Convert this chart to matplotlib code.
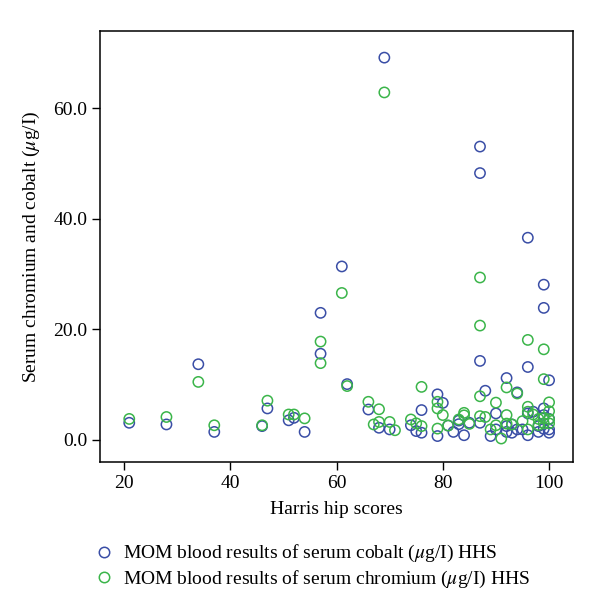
import matplotlib
matplotlib.use("Agg")
import matplotlib.pyplot as plt
from matplotlib.lines import Line2D

# Harris hip score vs serum cobalt (ug/l)
cobalt_hhs = [21, 28, 34, 37, 46, 47, 51, 52, 54, 57, 57, 61, 62, 66, 68, 70, 69,
              74, 75, 76, 76, 79, 79, 80, 81, 82, 83, 83, 84, 85, 87, 87, 87, 87,
              88, 89, 90, 90, 92, 92, 92, 93, 93, 94, 94, 95, 96, 96, 96, 96, 97,
              98, 98, 99, 99, 99, 99, 99, 100, 100, 100, 100]
cobalt = [3.1, 2.8, 13.7, 1.45, 2.5, 5.7, 3.55, 4.0, 1.45, 23.0, 15.6, 31.4, 10.1,
          5.5, 2.2, 1.9, 69.2, 2.65, 1.6, 5.4, 1.3, 8.25, 0.7, 6.7, 2.6, 1.45, 2.85,
          3.5, 0.85, 3.1, 53.1, 48.3, 14.3, 3.1, 8.9, 0.7, 4.8, 1.9, 11.2, 1.45, 2.5,
          1.3, 2.8, 8.6, 1.9, 1.9, 36.6, 13.2, 4.8, 0.85, 5.1, 1.45, 2.5, 28.1, 23.9,
          5.7, 4.5, 2.0, 10.8, 1.9, 1.3, 3.8]

# Harris hip score vs serum chromium (ug/l)
chromium_hhs = [21, 28, 34, 37, 46, 47, 51, 52, 54, 57, 57, 61, 62, 66, 67, 68, 68,
                69, 70, 71, 74, 75, 76, 76, 79, 79, 79, 80, 81, 83, 84, 84, 85, 87,
                87, 87, 87, 88, 89, 90, 90, 91, 92, 92, 92, 93, 94, 95, 96, 96, 96,
                96, 97, 98, 98, 99, 99, 99, 99, 100, 100, 100, 100]
chromium = [3.8, 4.15, 10.5, 2.65, 2.65, 7.1, 4.6, 4.6, 3.9, 17.8, 13.9, 26.6, 9.75,
            6.9, 2.8, 3.25, 5.55, 62.9, 3.25, 1.75, 3.7, 3.0, 9.6, 2.5, 6.9, 5.7,
            2.05, 4.5, 2.6, 3.7, 4.9, 4.45, 2.9, 29.4, 20.7, 7.9, 4.3, 4.15, 1.9,
            6.75, 2.65, 0.25, 9.5, 4.5, 2.95, 2.8, 8.4, 3.4, 18.1, 6.0, 5.1, 1.9, 4.6,
            3.8, 2.7, 16.4, 11.0, 4.0, 3.0, 6.8, 5.2, 3.75, 3.0]

x_ticks = [20, 40, 60, 80, 100]
y_ticks = [0, 20, 40, 60]
y_tick_labels = ["0.0", "20.0", "40.0", "60.0"]

blue = "#3a4ea6"
green = "#3bb54a"
serif = ["Liberation Serif", "DejaVu Serif"]

plt.rcParams["font.family"] = serif
plt.rcParams["mathtext.fontset"] = "stix"

fig = plt.figure(figsize=(6, 6.1), dpi=100)
ax = fig.add_axes([0.1667, 0.2426, 0.7883, 0.7064])

ax.scatter(cobalt_hhs, cobalt, s=55, facecolors="none", edgecolors=blue, linewidths=1.1)
ax.scatter(chromium_hhs, chromium, s=55, facecolors="none", edgecolors=green, linewidths=1.1)

ax.set_xlim(15.5, 104.5)
ax.set_ylim(-4, 74)
ax.set_xticks(x_ticks)
ax.set_yticks(y_ticks)
ax.set_yticklabels(y_tick_labels)
ax.tick_params(direction="out", length=6, width=1, labelsize=14, pad=3)
for sp in ax.spines.values():
    sp.set_linewidth(1.1)

ax.set_xlabel("Harris hip scores", fontsize=14, labelpad=7)
ax.set_ylabel(r"Serum chromium and cobalt ($\mu$g/I)", fontsize=14, labelpad=8)

handles = [
    Line2D([], [], linestyle="none", marker="o", markersize=7.5, markerfacecolor="none",
           markeredgecolor=blue, markeredgewidth=1.1),
    Line2D([], [], linestyle="none", marker="o", markersize=7.5, markerfacecolor="none",
           markeredgecolor=green, markeredgewidth=1.1),
]
labels = [r"MOM blood results of serum cobalt ($\mu$g/I) HHS",
          r"MOM blood results of serum chromium ($\mu$g/I) HHS"]
fig.legend(handles, labels, loc="upper left", bbox_to_anchor=(0.145, 0.122),
           frameon=False, fontsize=14, handlelength=0.9, handletextpad=0.55,
           labelspacing=0.22, borderaxespad=0)

fig.savefig("out.png", dpi=100)
